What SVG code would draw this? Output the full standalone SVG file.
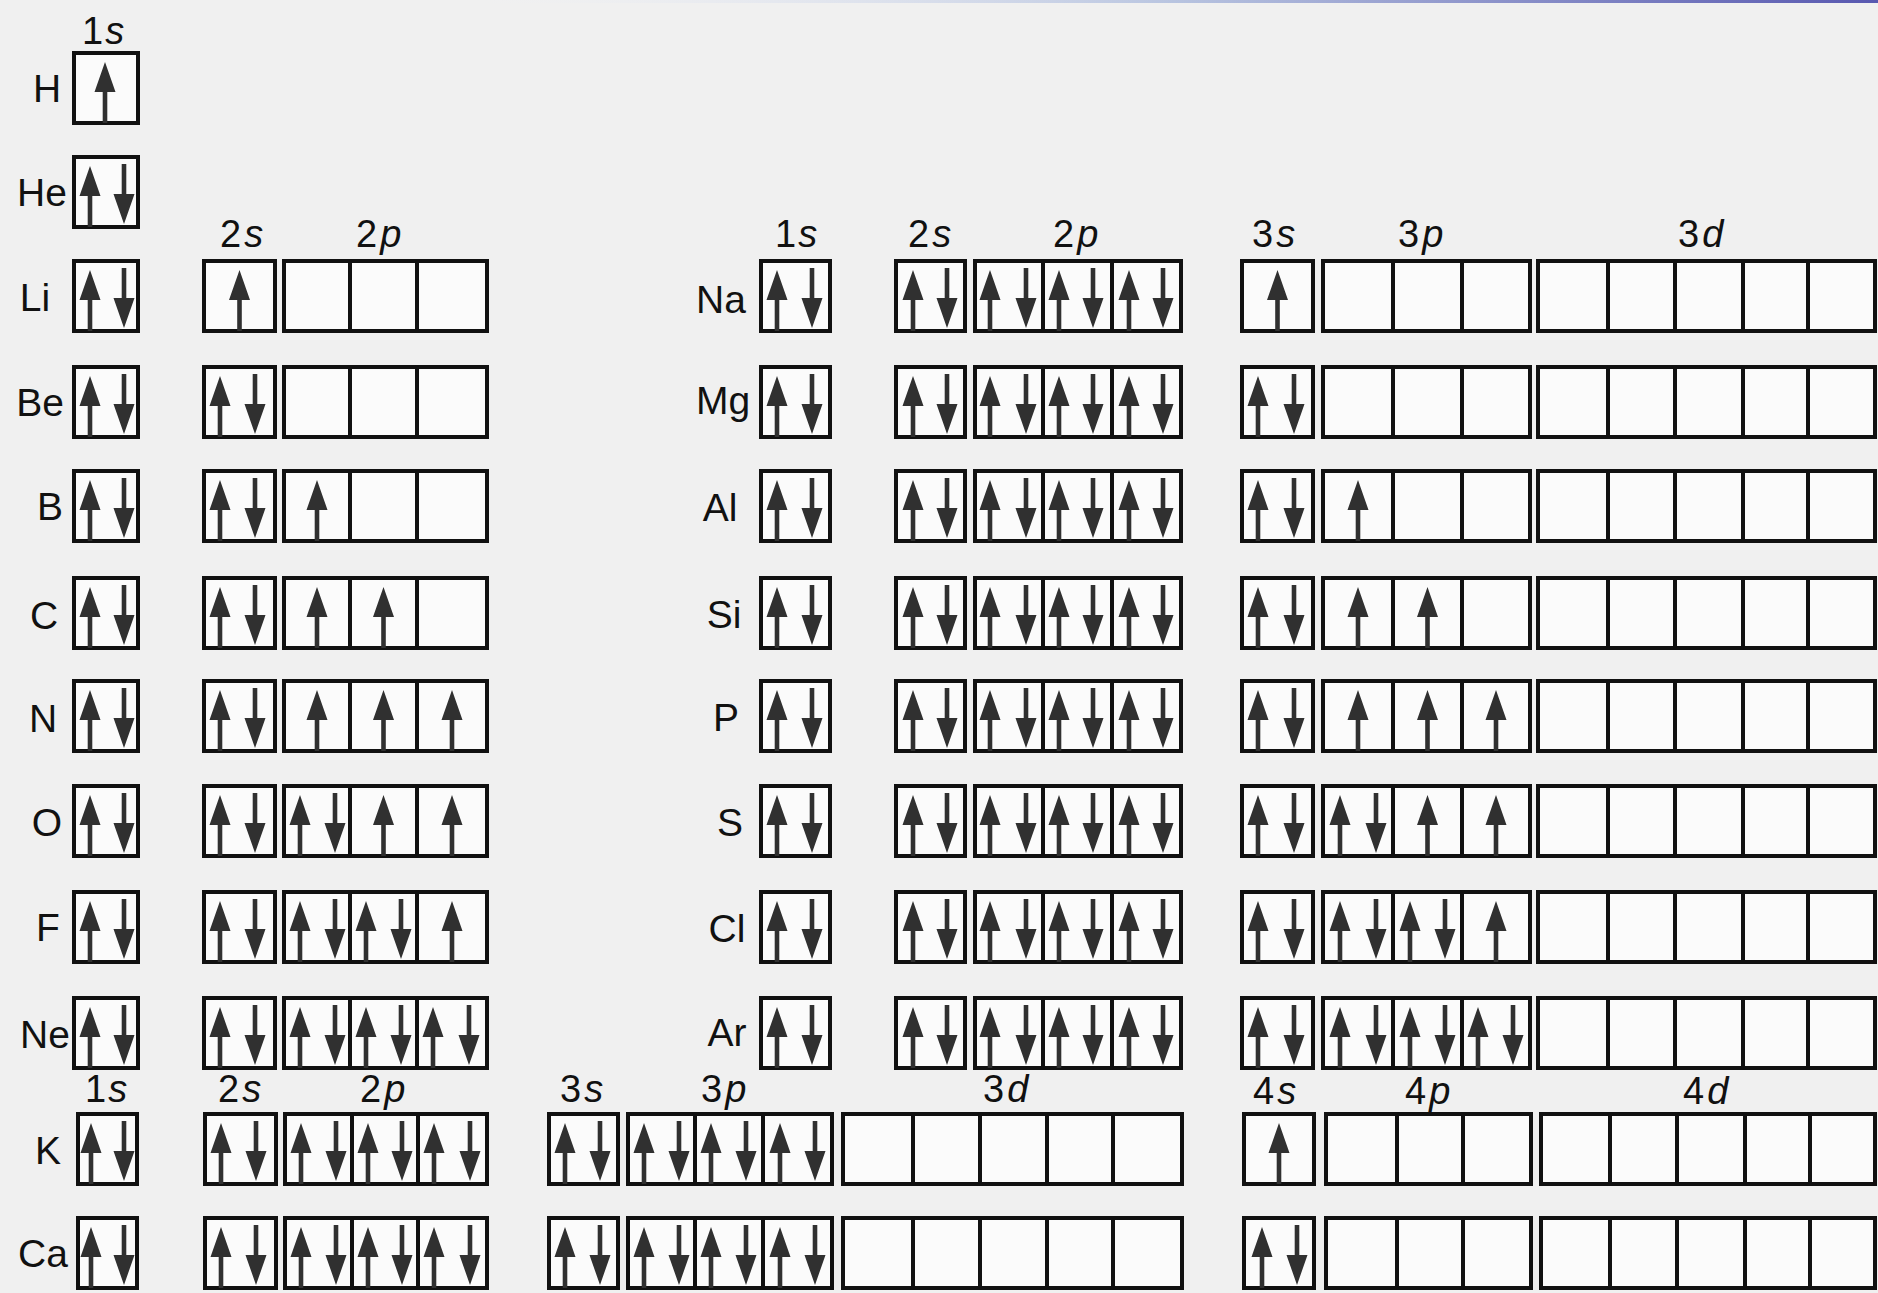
<svg xmlns="http://www.w3.org/2000/svg" xmlns:xlink="http://www.w3.org/1999/xlink" width="1878" height="1293" viewBox="0 0 1878 1293">
<style>
.b{fill:#fbfbfb;stroke:#111;stroke-width:4}
.d{stroke:#111;stroke-width:4}
.el{font-family:"Liberation Sans",Arial,sans-serif;font-size:39px;fill:#111;text-anchor:middle}
.orb{font-family:"Liberation Sans",Arial,sans-serif;font-size:38px;fill:#111}
.i{font-style:italic}
.ar{fill:#303030}
</style>
<defs>
<linearGradient id="top" x1="0" y1="0" x2="1" y2="0">
<stop offset="0" stop-color="#eef1f8" stop-opacity="0"/>
<stop offset="0.5" stop-color="#b8c4e0"/>
<stop offset="1" stop-color="#5858b0"/>
</linearGradient>
<path id="u" class="ar" d="M0,9 L10.5,39 L2.3,39 L2.3,70 L-2.3,70 L-2.3,39 L-10.5,39 Z"/>
<path id="n" class="ar" d="M-2.3,7 L2.3,7 L2.3,37 L10.5,37 L0,67 L-10.5,37 L-2.3,37 Z"/>
</defs>
<rect width="1878" height="1293" fill="#f0f0f0"/>
<rect x="470" y="0" width="1408" height="3" fill="url(#top)"/>

<g id="orbital-labels">
<text class="orb" x="82" y="44">1<tspan class="i" dx="2">s</tspan></text>
<text class="orb" x="220" y="247">2<tspan class="i" dx="3">s</tspan></text>
<text class="orb" x="356" y="247">2<tspan class="i" dx="3">p</tspan></text>
<text class="orb" x="775" y="247">1<tspan class="i" dx="2">s</tspan></text>
<text class="orb" x="908" y="247">2<tspan class="i" dx="3">s</tspan></text>
<text class="orb" x="1053" y="247">2<tspan class="i" dx="3">p</tspan></text>
<text class="orb" x="1252" y="247">3<tspan class="i" dx="3">s</tspan></text>
<text class="orb" x="1398" y="247">3<tspan class="i" dx="3">p</tspan></text>
<text class="orb" x="1678" y="247">3<tspan class="i" dx="3">d</tspan></text>
<text class="orb" x="85" y="1102">1<tspan class="i" dx="2">s</tspan></text>
<text class="orb" x="218" y="1102">2<tspan class="i" dx="3">s</tspan></text>
<text class="orb" x="360" y="1102">2<tspan class="i" dx="3">p</tspan></text>
<text class="orb" x="560" y="1102">3<tspan class="i" dx="3">s</tspan></text>
<text class="orb" x="701" y="1102">3<tspan class="i" dx="3">p</tspan></text>
<text class="orb" x="983" y="1102">3<tspan class="i" dx="3">d</tspan></text>
<text class="orb" x="1253" y="1104">4<tspan class="i" dx="3">s</tspan></text>
<text class="orb" x="1405" y="1104">4<tspan class="i" dx="3">p</tspan></text>
<text class="orb" x="1683" y="1104">4<tspan class="i" dx="3">d</tspan></text>
</g>

<g id="H">
<text class="el" x="47" y="102">H</text>
<rect class="b" x="74" y="53" width="64" height="70"/>
<use href="#u" x="105" y="53"/>
</g>

<g id="He">
<text class="el" x="42" y="206">He</text>
<rect class="b" x="74" y="157" width="64" height="70"/>
<use href="#u" x="90" y="157"/><use href="#n" x="124" y="157"/>
</g>

<g id="Li">
<text class="el" x="35" y="311">Li</text>
<rect class="b" x="74" y="261" width="64" height="70"/>
<rect class="b" x="204" y="261" width="71" height="70"/>
<rect class="b" x="284" y="261" width="203" height="70"/>
<path class="d" d="M350,261V331M417,261V331"/>
<use href="#u" x="90" y="261"/><use href="#n" x="124" y="261"/>
<use href="#u" x="239.5" y="261"/>
</g>

<g id="Be">
<text class="el" x="40" y="416">Be</text>
<rect class="b" x="74" y="367" width="64" height="70"/>
<rect class="b" x="204" y="367" width="71" height="70"/>
<rect class="b" x="284" y="367" width="203" height="70"/>
<path class="d" d="M350,367V437M417,367V437"/>
<use href="#u" x="90" y="367"/><use href="#n" x="124" y="367"/>
<use href="#u" x="220" y="367"/><use href="#n" x="255" y="367"/>
</g>

<g id="B">
<text class="el" x="50" y="520">B</text>
<rect class="b" x="74" y="471" width="64" height="70"/>
<rect class="b" x="204" y="471" width="71" height="70"/>
<rect class="b" x="284" y="471" width="203" height="70"/>
<path class="d" d="M350,471V541M417,471V541"/>
<use href="#u" x="90" y="471"/><use href="#n" x="124" y="471"/>
<use href="#u" x="220" y="471"/><use href="#n" x="255" y="471"/>
<use href="#u" x="317" y="471"/>
</g>

<g id="C">
<text class="el" x="44" y="629">C</text>
<rect class="b" x="74" y="578" width="64" height="70"/>
<rect class="b" x="204" y="578" width="71" height="70"/>
<rect class="b" x="284" y="578" width="203" height="70"/>
<path class="d" d="M350,578V648M417,578V648"/>
<use href="#u" x="90" y="578"/><use href="#n" x="124" y="578"/>
<use href="#u" x="220" y="578"/><use href="#n" x="255" y="578"/>
<use href="#u" x="317" y="578"/><use href="#u" x="383.5" y="578"/>
</g>

<g id="N">
<text class="el" x="43" y="732">N</text>
<rect class="b" x="74" y="681" width="64" height="70"/>
<rect class="b" x="204" y="681" width="71" height="70"/>
<rect class="b" x="284" y="681" width="203" height="70"/>
<path class="d" d="M350,681V751M417,681V751"/>
<use href="#u" x="90" y="681"/><use href="#n" x="124" y="681"/>
<use href="#u" x="220" y="681"/><use href="#n" x="255" y="681"/>
<use href="#u" x="317" y="681"/><use href="#u" x="383.5" y="681"/><use href="#u" x="452" y="681"/>
</g>

<g id="O">
<text class="el" x="47" y="836">O</text>
<rect class="b" x="74" y="786" width="64" height="70"/>
<rect class="b" x="204" y="786" width="71" height="70"/>
<rect class="b" x="284" y="786" width="203" height="70"/>
<path class="d" d="M350,786V856M417,786V856"/>
<use href="#u" x="90" y="786"/><use href="#n" x="124" y="786"/>
<use href="#u" x="220" y="786"/><use href="#n" x="255" y="786"/>
<use href="#u" x="300" y="786"/><use href="#n" x="335" y="786"/>
<use href="#u" x="383.5" y="786"/><use href="#u" x="452" y="786"/>
</g>

<g id="F">
<text class="el" x="48" y="941">F</text>
<rect class="b" x="74" y="892" width="64" height="70"/>
<rect class="b" x="204" y="892" width="71" height="70"/>
<rect class="b" x="284" y="892" width="203" height="70"/>
<path class="d" d="M350,892V962M417,892V962"/>
<use href="#u" x="90" y="892"/><use href="#n" x="124" y="892"/>
<use href="#u" x="220" y="892"/><use href="#n" x="255" y="892"/>
<use href="#u" x="300" y="892"/><use href="#n" x="335" y="892"/>
<use href="#u" x="366" y="892"/><use href="#n" x="401" y="892"/>
<use href="#u" x="452" y="892"/>
</g>

<g id="Ne">
<text class="el" x="45" y="1048">Ne</text>
<rect class="b" x="74" y="998" width="64" height="70"/>
<rect class="b" x="204" y="998" width="71" height="70"/>
<rect class="b" x="284" y="998" width="203" height="70"/>
<path class="d" d="M350,998V1068M417,998V1068"/>
<use href="#u" x="90" y="998"/><use href="#n" x="124" y="998"/>
<use href="#u" x="220" y="998"/><use href="#n" x="255" y="998"/>
<use href="#u" x="300" y="998"/><use href="#n" x="335" y="998"/>
<use href="#u" x="366" y="998"/><use href="#n" x="401" y="998"/>
<use href="#u" x="433" y="998"/><use href="#n" x="469" y="998"/>
</g>

<g id="Na">
<text class="el" x="721" y="313">Na</text>
<rect class="b" x="761" y="261" width="69" height="70"/>
<rect class="b" x="896" y="261" width="69" height="70"/>
<rect class="b" x="975" y="261" width="206" height="70"/>
<path class="d" d="M1043,261V331M1112,261V331"/>
<rect class="b" x="1242" y="261" width="71" height="70"/>
<rect class="b" x="1323" y="261" width="207" height="70"/>
<path class="d" d="M1393,261V331M1462,261V331"/>
<rect class="b" x="1538" y="261" width="337" height="70"/>
<path class="d" d="M1608,261V331M1675,261V331M1743,261V331M1808,261V331"/>
<use href="#u" x="777" y="261"/><use href="#n" x="812" y="261"/>
<use href="#u" x="913" y="261"/><use href="#n" x="947" y="261"/>
<use href="#u" x="990" y="261"/><use href="#n" x="1026" y="261"/>
<use href="#u" x="1059" y="261"/><use href="#n" x="1093" y="261"/>
<use href="#u" x="1129" y="261"/><use href="#n" x="1163" y="261"/>
<use href="#u" x="1277.5" y="261"/>
</g>

<g id="Mg">
<text class="el" x="723" y="414">Mg</text>
<rect class="b" x="761" y="367" width="69" height="70"/>
<rect class="b" x="896" y="367" width="69" height="70"/>
<rect class="b" x="975" y="367" width="206" height="70"/>
<path class="d" d="M1043,367V437M1112,367V437"/>
<rect class="b" x="1242" y="367" width="71" height="70"/>
<rect class="b" x="1323" y="367" width="207" height="70"/>
<path class="d" d="M1393,367V437M1462,367V437"/>
<rect class="b" x="1538" y="367" width="337" height="70"/>
<path class="d" d="M1608,367V437M1675,367V437M1743,367V437M1808,367V437"/>
<use href="#u" x="777" y="367"/><use href="#n" x="812" y="367"/>
<use href="#u" x="913" y="367"/><use href="#n" x="947" y="367"/>
<use href="#u" x="990" y="367"/><use href="#n" x="1026" y="367"/>
<use href="#u" x="1059" y="367"/><use href="#n" x="1093" y="367"/>
<use href="#u" x="1129" y="367"/><use href="#n" x="1163" y="367"/>
<use href="#u" x="1258" y="367"/><use href="#n" x="1294" y="367"/>
</g>

<g id="Al">
<text class="el" x="720" y="521">Al</text>
<rect class="b" x="761" y="471" width="69" height="70"/>
<rect class="b" x="896" y="471" width="69" height="70"/>
<rect class="b" x="975" y="471" width="206" height="70"/>
<path class="d" d="M1043,471V541M1112,471V541"/>
<rect class="b" x="1242" y="471" width="71" height="70"/>
<rect class="b" x="1323" y="471" width="207" height="70"/>
<path class="d" d="M1393,471V541M1462,471V541"/>
<rect class="b" x="1538" y="471" width="337" height="70"/>
<path class="d" d="M1608,471V541M1675,471V541M1743,471V541M1808,471V541"/>
<use href="#u" x="777" y="471"/><use href="#n" x="812" y="471"/>
<use href="#u" x="913" y="471"/><use href="#n" x="947" y="471"/>
<use href="#u" x="990" y="471"/><use href="#n" x="1026" y="471"/>
<use href="#u" x="1059" y="471"/><use href="#n" x="1093" y="471"/>
<use href="#u" x="1129" y="471"/><use href="#n" x="1163" y="471"/>
<use href="#u" x="1258" y="471"/><use href="#n" x="1294" y="471"/>
<use href="#u" x="1358" y="471"/>
</g>

<g id="Si">
<text class="el" x="724" y="628">Si</text>
<rect class="b" x="761" y="578" width="69" height="70"/>
<rect class="b" x="896" y="578" width="69" height="70"/>
<rect class="b" x="975" y="578" width="206" height="70"/>
<path class="d" d="M1043,578V648M1112,578V648"/>
<rect class="b" x="1242" y="578" width="71" height="70"/>
<rect class="b" x="1323" y="578" width="207" height="70"/>
<path class="d" d="M1393,578V648M1462,578V648"/>
<rect class="b" x="1538" y="578" width="337" height="70"/>
<path class="d" d="M1608,578V648M1675,578V648M1743,578V648M1808,578V648"/>
<use href="#u" x="777" y="578"/><use href="#n" x="812" y="578"/>
<use href="#u" x="913" y="578"/><use href="#n" x="947" y="578"/>
<use href="#u" x="990" y="578"/><use href="#n" x="1026" y="578"/>
<use href="#u" x="1059" y="578"/><use href="#n" x="1093" y="578"/>
<use href="#u" x="1129" y="578"/><use href="#n" x="1163" y="578"/>
<use href="#u" x="1258" y="578"/><use href="#n" x="1294" y="578"/>
<use href="#u" x="1358" y="578"/><use href="#u" x="1427.5" y="578"/>
</g>

<g id="P">
<text class="el" x="726" y="731">P</text>
<rect class="b" x="761" y="681" width="69" height="70"/>
<rect class="b" x="896" y="681" width="69" height="70"/>
<rect class="b" x="975" y="681" width="206" height="70"/>
<path class="d" d="M1043,681V751M1112,681V751"/>
<rect class="b" x="1242" y="681" width="71" height="70"/>
<rect class="b" x="1323" y="681" width="207" height="70"/>
<path class="d" d="M1393,681V751M1462,681V751"/>
<rect class="b" x="1538" y="681" width="337" height="70"/>
<path class="d" d="M1608,681V751M1675,681V751M1743,681V751M1808,681V751"/>
<use href="#u" x="777" y="681"/><use href="#n" x="812" y="681"/>
<use href="#u" x="913" y="681"/><use href="#n" x="947" y="681"/>
<use href="#u" x="990" y="681"/><use href="#n" x="1026" y="681"/>
<use href="#u" x="1059" y="681"/><use href="#n" x="1093" y="681"/>
<use href="#u" x="1129" y="681"/><use href="#n" x="1163" y="681"/>
<use href="#u" x="1258" y="681"/><use href="#n" x="1294" y="681"/>
<use href="#u" x="1358" y="681"/><use href="#u" x="1427.5" y="681"/><use href="#u" x="1496" y="681"/>
</g>

<g id="S">
<text class="el" x="730" y="836">S</text>
<rect class="b" x="761" y="786" width="69" height="70"/>
<rect class="b" x="896" y="786" width="69" height="70"/>
<rect class="b" x="975" y="786" width="206" height="70"/>
<path class="d" d="M1043,786V856M1112,786V856"/>
<rect class="b" x="1242" y="786" width="71" height="70"/>
<rect class="b" x="1323" y="786" width="207" height="70"/>
<path class="d" d="M1393,786V856M1462,786V856"/>
<rect class="b" x="1538" y="786" width="337" height="70"/>
<path class="d" d="M1608,786V856M1675,786V856M1743,786V856M1808,786V856"/>
<use href="#u" x="777" y="786"/><use href="#n" x="812" y="786"/>
<use href="#u" x="913" y="786"/><use href="#n" x="947" y="786"/>
<use href="#u" x="990" y="786"/><use href="#n" x="1026" y="786"/>
<use href="#u" x="1059" y="786"/><use href="#n" x="1093" y="786"/>
<use href="#u" x="1129" y="786"/><use href="#n" x="1163" y="786"/>
<use href="#u" x="1258" y="786"/><use href="#n" x="1294" y="786"/>
<use href="#u" x="1340" y="786"/><use href="#n" x="1376" y="786"/>
<use href="#u" x="1427.5" y="786"/><use href="#u" x="1496" y="786"/>
</g>

<g id="Cl">
<text class="el" x="727" y="942">Cl</text>
<rect class="b" x="761" y="892" width="69" height="70"/>
<rect class="b" x="896" y="892" width="69" height="70"/>
<rect class="b" x="975" y="892" width="206" height="70"/>
<path class="d" d="M1043,892V962M1112,892V962"/>
<rect class="b" x="1242" y="892" width="71" height="70"/>
<rect class="b" x="1323" y="892" width="207" height="70"/>
<path class="d" d="M1393,892V962M1462,892V962"/>
<rect class="b" x="1538" y="892" width="337" height="70"/>
<path class="d" d="M1608,892V962M1675,892V962M1743,892V962M1808,892V962"/>
<use href="#u" x="777" y="892"/><use href="#n" x="812" y="892"/>
<use href="#u" x="913" y="892"/><use href="#n" x="947" y="892"/>
<use href="#u" x="990" y="892"/><use href="#n" x="1026" y="892"/>
<use href="#u" x="1059" y="892"/><use href="#n" x="1093" y="892"/>
<use href="#u" x="1129" y="892"/><use href="#n" x="1163" y="892"/>
<use href="#u" x="1258" y="892"/><use href="#n" x="1294" y="892"/>
<use href="#u" x="1340" y="892"/><use href="#n" x="1376" y="892"/>
<use href="#u" x="1410" y="892"/><use href="#n" x="1445" y="892"/>
<use href="#u" x="1496" y="892"/>
</g>

<g id="Ar">
<text class="el" x="727" y="1046">Ar</text>
<rect class="b" x="761" y="998" width="69" height="70"/>
<rect class="b" x="896" y="998" width="69" height="70"/>
<rect class="b" x="975" y="998" width="206" height="70"/>
<path class="d" d="M1043,998V1068M1112,998V1068"/>
<rect class="b" x="1242" y="998" width="71" height="70"/>
<rect class="b" x="1323" y="998" width="207" height="70"/>
<path class="d" d="M1393,998V1068M1462,998V1068"/>
<rect class="b" x="1538" y="998" width="337" height="70"/>
<path class="d" d="M1608,998V1068M1675,998V1068M1743,998V1068M1808,998V1068"/>
<use href="#u" x="777" y="998"/><use href="#n" x="812" y="998"/>
<use href="#u" x="913" y="998"/><use href="#n" x="947" y="998"/>
<use href="#u" x="990" y="998"/><use href="#n" x="1026" y="998"/>
<use href="#u" x="1059" y="998"/><use href="#n" x="1093" y="998"/>
<use href="#u" x="1129" y="998"/><use href="#n" x="1163" y="998"/>
<use href="#u" x="1258" y="998"/><use href="#n" x="1294" y="998"/>
<use href="#u" x="1340" y="998"/><use href="#n" x="1376" y="998"/>
<use href="#u" x="1410" y="998"/><use href="#n" x="1445" y="998"/>
<use href="#u" x="1478" y="998"/><use href="#n" x="1513" y="998"/>
</g>

<g id="K">
<text class="el" x="48" y="1164">K</text>
<rect class="b" x="78" y="1114" width="59" height="70"/>
<rect class="b" x="205" y="1114" width="71" height="70"/>
<rect class="b" x="285" y="1114" width="202" height="70"/>
<path class="d" d="M352,1114V1184M418,1114V1184"/>
<rect class="b" x="549" y="1114" width="69" height="70"/>
<rect class="b" x="628" y="1114" width="204" height="70"/>
<path class="d" d="M695,1114V1184M763,1114V1184"/>
<rect class="b" x="843" y="1114" width="339" height="70"/>
<path class="d" d="M913,1114V1184M980,1114V1184M1047,1114V1184M1113,1114V1184"/>
<rect class="b" x="1244" y="1114" width="70" height="70"/>
<rect class="b" x="1326" y="1114" width="205" height="70"/>
<path class="d" d="M1397,1114V1184M1463,1114V1184"/>
<rect class="b" x="1541" y="1114" width="334" height="70"/>
<path class="d" d="M1610,1114V1184M1677,1114V1184M1745,1114V1184M1810,1114V1184"/>
<use href="#u" x="91" y="1114"/><use href="#n" x="124" y="1114"/>
<use href="#u" x="221" y="1114"/><use href="#n" x="256" y="1114"/>
<use href="#u" x="301" y="1114"/><use href="#n" x="336" y="1114"/>
<use href="#u" x="368" y="1114"/><use href="#n" x="402" y="1114"/>
<use href="#u" x="434" y="1114"/><use href="#n" x="470" y="1114"/>
<use href="#u" x="565" y="1114"/><use href="#n" x="600" y="1114"/>
<use href="#u" x="644" y="1114"/><use href="#n" x="679" y="1114"/>
<use href="#u" x="711" y="1114"/><use href="#n" x="746" y="1114"/>
<use href="#u" x="780" y="1114"/><use href="#n" x="815" y="1114"/>
<use href="#u" x="1279" y="1114"/>
</g>

<g id="Ca">
<text class="el" x="43" y="1267">Ca</text>
<rect class="b" x="78" y="1218" width="59" height="70"/>
<rect class="b" x="205" y="1218" width="71" height="70"/>
<rect class="b" x="285" y="1218" width="202" height="70"/>
<path class="d" d="M352,1218V1288M418,1218V1288"/>
<rect class="b" x="549" y="1218" width="69" height="70"/>
<rect class="b" x="628" y="1218" width="204" height="70"/>
<path class="d" d="M695,1218V1288M763,1218V1288"/>
<rect class="b" x="843" y="1218" width="339" height="70"/>
<path class="d" d="M913,1218V1288M980,1218V1288M1047,1218V1288M1113,1218V1288"/>
<rect class="b" x="1244" y="1218" width="70" height="70"/>
<rect class="b" x="1326" y="1218" width="205" height="70"/>
<path class="d" d="M1397,1218V1288M1463,1218V1288"/>
<rect class="b" x="1541" y="1218" width="334" height="70"/>
<path class="d" d="M1610,1218V1288M1677,1218V1288M1745,1218V1288M1810,1218V1288"/>
<use href="#u" x="91" y="1218"/><use href="#n" x="124" y="1218"/>
<use href="#u" x="221" y="1218"/><use href="#n" x="256" y="1218"/>
<use href="#u" x="301" y="1218"/><use href="#n" x="336" y="1218"/>
<use href="#u" x="368" y="1218"/><use href="#n" x="402" y="1218"/>
<use href="#u" x="434" y="1218"/><use href="#n" x="470" y="1218"/>
<use href="#u" x="565" y="1218"/><use href="#n" x="600" y="1218"/>
<use href="#u" x="644" y="1218"/><use href="#n" x="679" y="1218"/>
<use href="#u" x="711" y="1218"/><use href="#n" x="746" y="1218"/>
<use href="#u" x="780" y="1218"/><use href="#n" x="815" y="1218"/>
<use href="#u" x="1262" y="1218"/><use href="#n" x="1297" y="1218"/>
</g>
</svg>
